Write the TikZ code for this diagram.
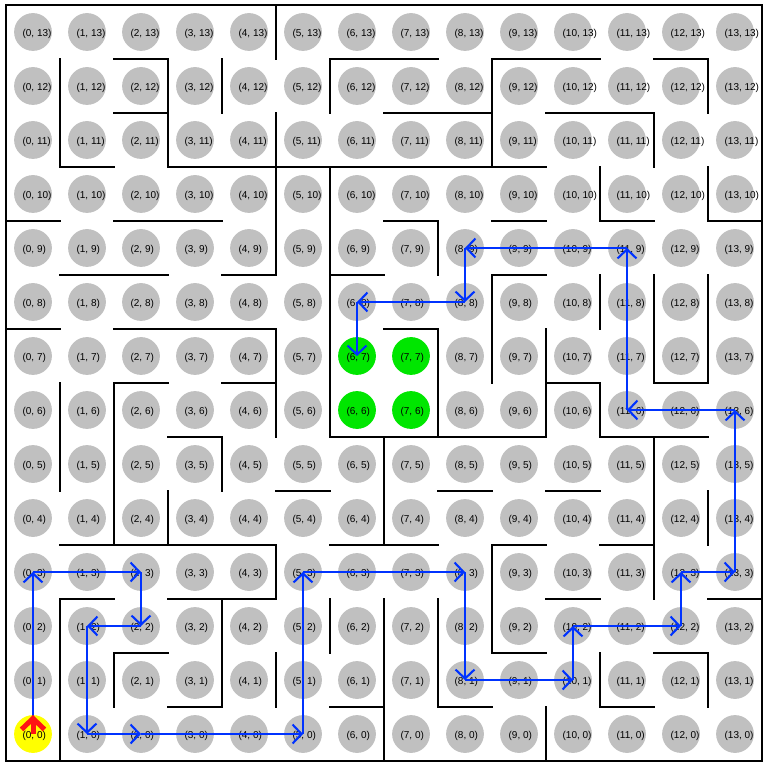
\documentclass[tikz,border=0pt]{standalone}
\usepackage{fontspec}
\setmainfont{Liberation Sans}
\usetikzlibrary{arrows.meta}
\definecolor{cellgray}{RGB}{192,192,192}
\definecolor{goalgreen}{RGB}{0,230,0}
\definecolor{startyellow}{RGB}{255,255,0}
\definecolor{pathblue}{RGB}{0,51,255}
\definecolor{startred}{RGB}{255,20,20}
\begin{document}
\begin{tikzpicture}[x=27pt,y=27pt,
  cell/.style={circle,minimum size=18.9pt,inner sep=0pt},
  lbl/.style={anchor=west,inner sep=0pt,font=\fontsize{5}{6}\selectfont},
  wall/.style={line width=0.95pt,line cap=rect,black},
  pathseg/.style={pathblue,line width=1.05pt,-{Straight Barb[length=4.5pt,width=9.5pt]}},
  startarrow/.style={startred,line width=2.5pt,-{Straight Barb[length=5.5pt,width=11.5pt]}}]
\useasboundingbox (-3pt,-2.5pt) rectangle (381.5pt,380.5pt);
% cells
\foreach \i in {0,...,13}{
  \foreach \j in {0,...,13}{
    \def\cf{cellgray}
    \ifnum\i=0 \ifnum\j=0 \def\cf{startyellow}\fi\fi
    \ifnum\i>5 \ifnum\i<8 \ifnum\j>5 \ifnum\j<8 \def\cf{goalgreen}\fi\fi\fi\fi
    \node[cell,fill=\cf] (c-\i-\j) at (\i+0.5,\j+0.5) {};
    \node[lbl] (t-\i-\j) at (\i+0.3,\j+0.47) {(\i, \j)};
  }
}
% border
\draw[wall] (0,0) rectangle (14,14);
% horizontal walls: y/x1/x2
\foreach \y/\a/\b in {
  13/2/3, 13/6/8, 13/9/11, 13/12/13,
  12/2/3, 12/7/9, 12/10/12,
  11/1/2, 11/3/10,
  10/0/1, 10/2/4, 10/7/8, 10/9/10, 10/11/12, 10/13/14,
  9/1/3, 9/4/5, 9/6/7, 9/9/10,
  8/0/1, 8/2/5, 8/7/8,
  7/2/3, 7/4/5, 7/10/11, 7/12/13,
  6/3/4, 6/6/10, 6/11/13,
  5/5/6, 5/8/9, 5/10/11,
  4/1/5, 4/6/8, 4/9/10, 4/11/12,
  3/1/2, 3/3/5, 3/10/11, 3/13/14,
  2/2/3, 2/9/10, 2/12/13,
  1/3/4, 1/6/7, 1/8/9, 1/11/12}
  {\draw[wall] (\a,\y) -- (\b,\y);}
% vertical walls: x/y1/y2
\foreach \x/\a/\b in {
  1/11/13, 1/5/7, 1/0/3,
  2/4/7, 2/1/2,
  3/11/13, 3/4/5,
  4/12/13, 4/5/6, 4/1/3,
  5/13/14, 5/9/12, 5/6/8, 5/3/4, 5/1/2,
  6/12/13, 6/6/11, 6/2/3,
  7/4/6, 7/0/3,
  8/9/10, 8/6/8, 8/1/3,
  9/11/13, 9/7/9, 9/2/4,
  10/6/8, 10/0/1,
  11/10/11, 11/8/9, 11/6/7, 11/1/2,
  12/11/12, 12/7/9, 12/3/6,
  13/12/13, 13/10/11, 13/7/9, 13/4/5, 13/1/2}
  {\draw[wall] (\x,\a) -- (\x,\b);}
% path
\foreach \p/\q in {0-0/0-3, 0-3/2-3, 2-3/2-2, 2-2/1-2, 1-2/1-0, 1-0/2-0, 2-0/5-0,
  5-0/5-3, 5-3/8-3, 8-3/8-1, 8-1/10-1, 10-1/10-2, 10-2/12-2, 12-2/12-3,
  12-3/13-3, 13-3/13-6, 13-6/11-6, 11-6/11-9, 11-9/8-9, 8-9/8-8, 8-8/6-8, 6-8/6-7}
  {\draw[pathseg] (c-\p.center) -- (c-\q.center);}
% start marker
\coordinate (redtip) at (0.5,0.852);
\draw[startarrow] (c-0-0.center) -- (redtip);
\end{tikzpicture}
\end{document}
